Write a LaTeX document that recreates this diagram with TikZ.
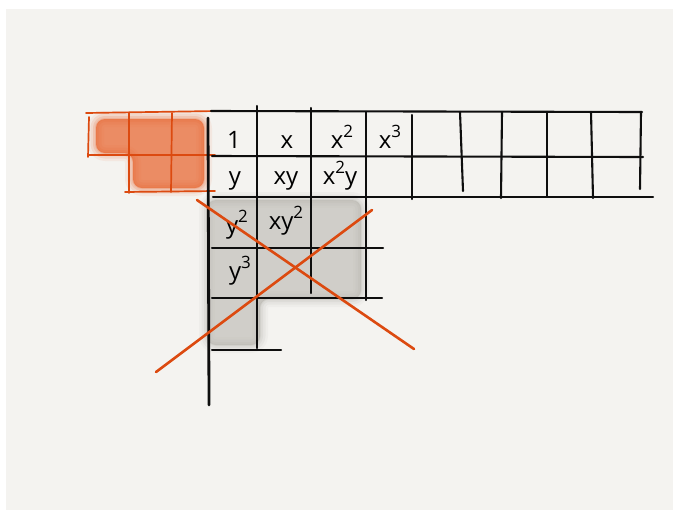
\documentclass[tikz,border=0pt]{standalone}
\usepackage{fontspec}
\setmainfont{Open Sans}
\definecolor{paper}{HTML}{F4F3F0}
\definecolor{ink}{HTML}{0E0E0E}
\definecolor{marker}{HTML}{DC4A10}
\definecolor{wash}{HTML}{E8652F}
\definecolor{smudge}{HTML}{B4B1AA}
\newcommand{\pw}[1]{\raisebox{0.45em}{\fontsize{17}{17}\selectfont #1}}

\begin{document}
\begin{tikzpicture}[x=1pt,y=-1pt,
  gridline/.style={ink,line width=2.1pt,line cap=round},
  redline/.style={marker,line width=1.7pt,line cap=round},
  term/.style={font=\fontsize{24}{24}\selectfont,inner sep=0pt,anchor=base}]
  \path[use as bounding box] (0,0) rectangle (679,517);
  \fill[white] (0,0) rectangle (679,517);
  \fill[paper] (6,9) rectangle (673,510);

  % Grey smudge over the struck-out cells.
  \foreach \w/\op in {16/0.08,11/0.12,6/0.16,2/0.2}{
    \draw[smudge,opacity=\op,line width=\w pt,line join=round,rounded corners=9pt]
      (207,200) -- (361,200) -- (361,299) -- (260,299) -- (260,345) -- (207,345) -- cycle;
  }
  \fill[smudge,opacity=0.55,rounded corners=9pt]
    (207,200) -- (361,200) -- (361,299) -- (260,299) -- (260,345) -- (207,345) -- cycle;

  % Orange wash on the left.
  \foreach \w/\op in {16/0.08,11/0.12,6/0.16,2/0.2}{
    \draw[wash,opacity=\op,line width=\w pt,line join=round,rounded corners=9pt]
      (96,119) -- (204,119) -- (204,188) -- (133,188) -- (133,153) -- (96,153) -- cycle;
  }
  \fill[wash,opacity=0.72,rounded corners=9pt]
    (96,119) -- (204,119) -- (204,188) -- (133,188) -- (133,153) -- (96,153) -- cycle;

  % Orange grid.
  \draw[redline] (86,113) -- (217,111);
  \draw[redline] (88,155) -- (215,155);
  \draw[redline] (125,192) -- (215,191);
  \draw[redline] (89,117) -- (88,157);
  \draw[redline] (129,113) -- (129,193);
  \draw[redline] (172,113) -- (171,192);

  % Black grid.
  \draw[gridline] (211,111) -- (642,112);
  \draw[gridline] (212,156) -- (643,157);
  \draw[gridline] (213,197) -- (653,197);
  \draw[gridline] (212,248) -- (383,248);
  \draw[gridline] (212,298) -- (382,298);
  \draw[gridline] (212,350) -- (281,350);
  \draw[gridline,line width=2.8pt] (208,118) -- (209,405);
  \foreach \xa/\ya/\xb/\yb in {257/106/257/348,311/108/311/293,366/112/366/300,
      412/115/412/199,460/112/463/191,502/112/501/198,547/112/547/196,
      591/112/593/198,641/112/640/189}{
    \draw[gridline] (\xa,\ya) -- (\xb,\yb);
  }

  % Monomials.
  \node[term] (t1) at (234,148) {1};
  \node[term] (tx) at (287,148) {x};
  \node[term] (txx) at (342,148) {x\pw{2}};
  \node[term] (txxx) at (390,148) {x\pw{3}};
  \node[term] (ty) at (235,184) {y};
  \node[term] (txy) at (286,184) {xy};
  \node[term] (txxy) at (340,184) {x\pw{2}y};
  \node[term] (tyy) at (237,233) {y\pw{2}};
  \node[term] (txyy) at (286,229) {xy\pw{2}};
  \node[term] (tyyy) at (240,279) {y\pw{3}};

  % Strike-out cross.
  \draw[redline,line width=2.6pt] (197,200) -- (414,349);
  \draw[redline,line width=2.6pt] (156,372) -- (372,210);
\end{tikzpicture}
\end{document}
